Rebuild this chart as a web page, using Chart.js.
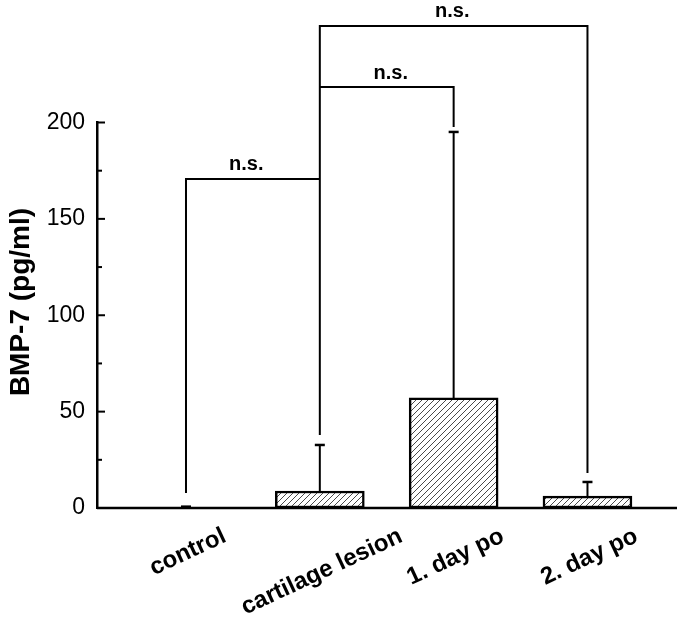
<!DOCTYPE html>
<html>
<head>
<meta charset="utf-8">
<script src="https://cdn.jsdelivr.net/npm/chart.js@4"></script>
<style>
  html, body { margin: 0; padding: 0; background: #fff; }
</style>
</head>
<body>
<canvas id="bmpChart" width="685" height="623"></canvas>
<script>
const groups = ["control", "cartilage lesion", "1. day po", "2. day po"];
const means = [0.2, 8.8, 57.1, 6.2];
const sds = [0.5, 23.9, 138, 7.3];

// significance brackets, x = group index, y = pg/ml
const bracketAx = [0, 0, 1];
const bracketAy = [7.8, 170.7, 170.7];
const bracketBx = [1, 1, 3, 3];
const bracketBy = [37.9, 250.1, 250.1, 18.2];
const bracketCx = [1, 2, 2];
const bracketCy = [218.4, 218.4, 197.7];

const nsLabels = ["n.s.", "n.s.", "n.s."];
const nsX = [0.45, 1.53, 1.99];
const nsY = [170.7, 218.4, 250.1];

const yTitle = "BMP-7 (pg/ml)";
const FONT = "'Liberation Sans', Arial, sans-serif";

function hatch() {
  const c = document.createElement("canvas");
  c.width = 6; c.height = 6;
  const g = c.getContext("2d");
  g.fillStyle = "#fff";
  g.fillRect(0, 0, 6, 6);
  g.strokeStyle = "#4a4a4a";
  g.lineWidth = 1;
  g.beginPath();
  g.moveTo(0, 6); g.lineTo(6, 0);
  g.moveTo(-1, 1); g.lineTo(1, -1);
  g.moveTo(5, 7); g.lineTo(7, 5);
  g.stroke();
  return g.createPattern(c, "repeat");
}

function zip(xs, ys) {
  return xs.map((x, i) => ({ x: x, y: ys[i] }));
}

function bracketSet(xs, ys) {
  return {
    type: "line",
    data: zip(xs, ys),
    borderColor: "#000",
    borderWidth: 2,
    pointRadius: 0,
    fill: false,
    tension: 0,
    clip: false
  };
}

const extras = {
  id: "extras",
  afterDraw(chart) {
    const ctx = chart.ctx;
    const area = chart.chartArea;
    const x = chart.scales.x;
    const y = chart.scales.y;
    ctx.save();
    ctx.strokeStyle = "#000";
    ctx.fillStyle = "#000";

    // x axis line
    ctx.lineWidth = 2.5;
    ctx.beginPath();
    ctx.moveTo(area.left, area.bottom);
    ctx.lineTo(area.right, area.bottom);
    ctx.stroke();

    // inward ticks
    ctx.lineWidth = 2;
    y.ticks.forEach(t => {
      if (t.value === 0) return;
      const py = y.getPixelForValue(t.value);
      const len = t.value % 50 === 0 ? 8 : 5;
      ctx.beginPath();
      ctx.moveTo(area.left, py);
      ctx.lineTo(area.left + len, py);
      ctx.stroke();
    });

    // error bars
    ctx.lineWidth = 2;
    means.forEach((m, i) => {
      const px = x.getPixelForValue(i);
      const y0 = y.getPixelForValue(m);
      const y1 = y.getPixelForValue(m + sds[i]);
      ctx.beginPath();
      ctx.moveTo(px, y0);
      ctx.lineTo(px, y1);
      ctx.stroke();
      ctx.lineWidth = 2.5;
      ctx.beginPath();
      ctx.moveTo(px - 5, y1);
      ctx.lineTo(px + 5, y1);
      ctx.stroke();
      ctx.lineWidth = 2;
    });

    // n.s. labels
    ctx.font = "bold 20px " + FONT;
    ctx.textAlign = "center";
    ctx.textBaseline = "bottom";
    nsLabels.forEach((s, i) => {
      ctx.fillText(s, x.getPixelForValue(nsX[i]), y.getPixelForValue(nsY[i]) - 4);
    });

    // rotated category labels
    const a = 25 * Math.PI / 180;
    ctx.font = "bold 24px " + FONT;
    ctx.textBaseline = "middle";
    groups.forEach((g, i) => {
      const w = ctx.measureText(g).width;
      const cx = x.getPixelForValue(i) + 2;
      const cy = area.bottom + 27 + w * Math.sin(a) / 2;
      ctx.save();
      ctx.translate(cx, cy);
      ctx.rotate(-a);
      ctx.fillText(g, 0, 0);
      ctx.restore();
    });

    // y title
    ctx.font = "bold 28px " + FONT;
    ctx.save();
    ctx.translate(21, 302);
    ctx.rotate(-Math.PI / 2);
    ctx.fillText(yTitle, 0, 0);
    ctx.restore();

    ctx.restore();
  }
};

new Chart(document.getElementById("bmpChart"), {
  type: "bar",
  data: {
    datasets: [
      {
        type: "bar",
        data: zip(groups.map((g, i) => i), means),
        backgroundColor: hatch(),
        borderColor: "#000",
        borderWidth: 2.5,
        borderSkipped: false,
        barThickness: 89
      },
      bracketSet(bracketAx, bracketAy),
      bracketSet(bracketBx, bracketBy),
      bracketSet(bracketCx, bracketCy)
    ]
  },
  options: {
    responsive: false,
    animation: false,
    layout: { padding: { top: 122.5, right: 8, bottom: 115, left: 0 } },
    plugins: { legend: { display: false }, tooltip: { enabled: false } },
    scales: {
      x: {
        type: "linear",
        min: -0.665,
        max: 3.669,
        offset: false,
        display: false
      },
      y: {
        min: 0,
        max: 200,
        afterFit(s) { s.width = 97; },
        grid: { display: false, drawTicks: false },
        border: { display: true, color: "#000", width: 2.5 },
        ticks: {
          stepSize: 25,
          padding: 12,
          color: "#000",
          font: { family: FONT, size: 23 },
          callback: v => (v % 50 === 0 ? v : "")
        }
      }
    }
  },
  plugins: [extras]
});
</script>
</body>
</html>
